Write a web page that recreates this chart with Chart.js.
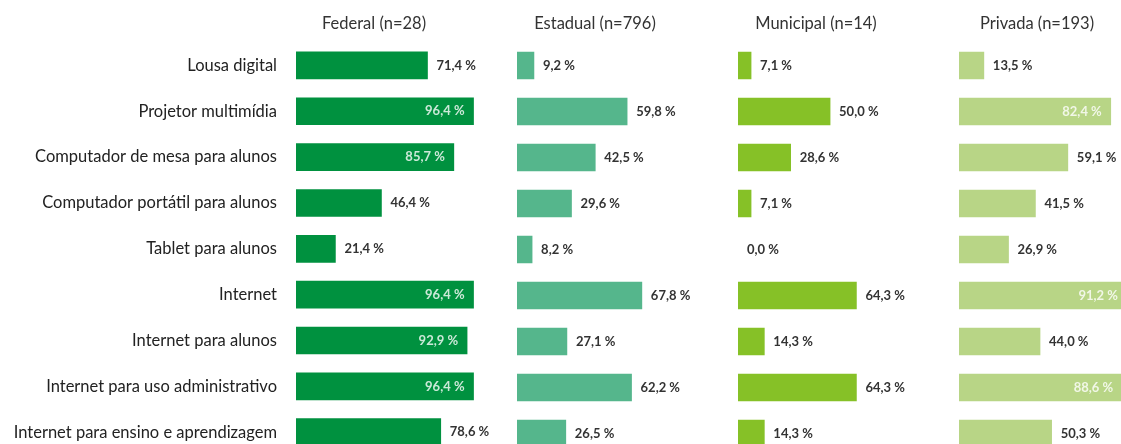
<!DOCTYPE html>
<html>
<head>
<meta charset="utf-8">
<script src="https://cdn.jsdelivr.net/npm/chart.js@4"></script>
<style>
body{margin:0;background:#fff;overflow:hidden}
#wrap{position:relative;width:1121px;height:444px;overflow:hidden}
canvas{position:absolute;top:0}
</style>
</head>
<body>
<div id="wrap">
<canvas id="c0" width="517" height="484" style="left:0"></canvas>
<canvas id="c1" width="221" height="470" style="left:517px"></canvas>
<canvas id="c2" width="221" height="470" style="left:738px"></canvas>
<canvas id="c3" width="221" height="470" style="left:959px"></canvas>
</div>
<script>
// categorias
var categorias = ['Lousa digital', 'Projetor multimídia', 'Computador de mesa para alunos',
	'Computador portátil para alunos', 'Tablet para alunos', 'Internet', 'Internet para alunos',
	'Internet para uso administrativo', 'Internet para ensino e aprendizagem'];

var titulos = ['Federal (n=28)', 'Estadual (n=796)', 'Municipal (n=14)', 'Privada (n=193)'];

var federal   = [71.4, 96.4, 85.7, 46.4, 21.4, 96.4, 92.9, 96.4, 78.6];
var estadual  = [9.2, 59.8, 42.5, 29.6, 8.2, 67.8, 27.1, 62.2, 26.5];
var municipal = [7.1, 50.0, 28.6, 7.1, 0.0, 64.3, 14.3, 64.3, 14.3];
var privada   = [13.5, 82.4, 59.1, 41.5, 26.9, 91.2, 44.0, 88.6, 50.3];

var cores = ['#00913f', '#55b68c', '#86c127', '#b8d586'];
var series = [federal, estadual, municipal, privada];

// rotulos de valor + titulo do painel
var valueLabels = {
	id: 'valueLabels',
	afterDatasetsDraw: function(chart, args, opts){
		var ctx = chart.ctx;
		var meta = chart.getDatasetMeta(0);
		var data = chart.data.datasets[0].data;
		ctx.save();
		ctx.font = 'bold 13px Lato';
		ctx.textBaseline = 'middle';
		meta.data.forEach(function(bar, i){
			var v = data[i];
			var txt = v.toFixed(1).replace('.', ',') + ' %';
			if(v >= 80){
				ctx.fillStyle = 'rgba(255,255,255,0.8)';
				ctx.textAlign = 'right';
				ctx.fillText(txt, bar.x - 9, bar.y);
			}else{
				ctx.fillStyle = '#333333';
				ctx.textAlign = 'left';
				ctx.fillText(txt, bar.x + 9, bar.y);
			}
		});
		ctx.font = '16.5px Lato';
		ctx.fillStyle = '#333333';
		ctx.textAlign = 'center';
		ctx.fillText(opts.title, chart.chartArea.left + 78, 24);
		ctx.restore();
	}
};

for(var i = 0; i < 4; i++){
	var yScale = {
		display: i == 0,
		grid: {display: false, drawTicks: false},
		border: {display: false},
		ticks: {padding: 19, color: '#222222', font: {family: 'Lato', size: 16.5}}
	};
	if(i == 0){
		yScale.afterFit = function(scale){ scale.width = 296; };
	}
	var cor = cores[i];
	var config = {};
	config.type = 'bar';
	config.data = {
		labels: categorias,
		datasets: [{
			data: series[i],
			backgroundColor: (function(c){
				return function(ctx){ return ctx.raw === 0 ? 'rgba(0,0,0,0)' : c; };
			})(cor),
			barThickness: 27
		}]
	};
	config.options = {
		indexAxis: 'y',
		responsive: false,
		animation: false,
		layout: {padding: {top: 42.5, bottom: 13.5, left: 0, right: 0}},
		plugins: {
			legend: {display: false},
			tooltip: {enabled: false},
			valueLabels: {title: titulos[i]}
		},
		scales: {
			x: {min: 0, max: 120, display: false},
			y: yScale
		}
	};
	config.plugins = [valueLabels];
	new Chart(document.getElementById('c' + i), config);
}
</script>
</body>
</html>
